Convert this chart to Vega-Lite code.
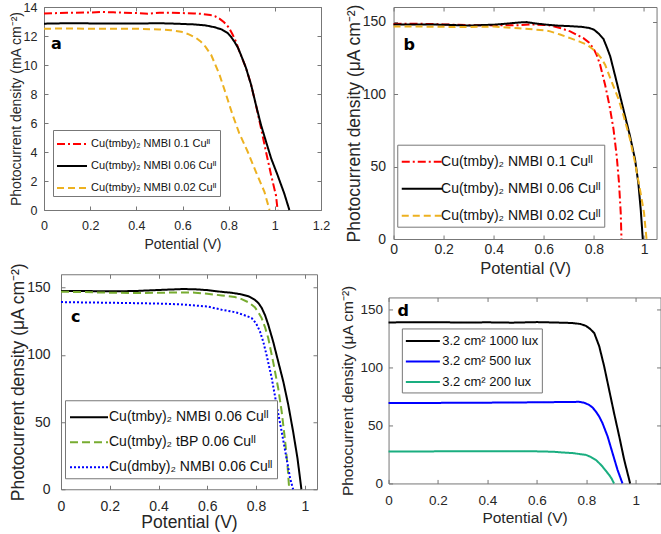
{
  "$schema": "https://vega.github.io/schema/vega-lite/v6.json",
  "background": "white",
  "padding": {"left": 7, "top": 0, "right": 0, "bottom": 0},
  "config": {
    "view": {"stroke": "#777", "strokeWidth": 1},
    "axis": {"grid": false, "domain": false, "ticks": true, "tickSize": -4, "tickColor": "#777", "tickCount": 20, "labelFont": "Liberation Sans", "titleFont": "Liberation Sans", "labelColor": "#262626", "titleColor": "#262626", "titleFontWeight": "normal", "labelFlush": false, "labelOverlap": false, "titlePadding": 0},
    "legend": {"title": null, "symbolStrokeWidth": 2, "labelFont": "Liberation Sans", "labelColor": "#111", "strokeColor": "#777", "fillColor": "white", "labelLimit": 400, "rowPadding": 0}
  },
  "datasets": {
    "a": [
      {"s": "Cu(tmby)₂ NMBI 0.1 Cuᴵᴵ", "v": 0, "j": 13.55}, {"s": "Cu(tmby)₂ NMBI 0.1 Cuᴵᴵ", "v": 0.1, "j": 13.6}, {"s": "Cu(tmby)₂ NMBI 0.1 Cuᴵᴵ", "v": 0.2, "j": 13.62}, {"s": "Cu(tmby)₂ NMBI 0.1 Cuᴵᴵ", "v": 0.25, "j": 13.66}, {"s": "Cu(tmby)₂ NMBI 0.1 Cuᴵᴵ", "v": 0.3, "j": 13.63}, {"s": "Cu(tmby)₂ NMBI 0.1 Cuᴵᴵ", "v": 0.4, "j": 13.58}, {"s": "Cu(tmby)₂ NMBI 0.1 Cuᴵᴵ", "v": 0.45, "j": 13.54}, {"s": "Cu(tmby)₂ NMBI 0.1 Cuᴵᴵ", "v": 0.5, "j": 13.6}, {"s": "Cu(tmby)₂ NMBI 0.1 Cuᴵᴵ", "v": 0.55, "j": 13.6}, {"s": "Cu(tmby)₂ NMBI 0.1 Cuᴵᴵ", "v": 0.6, "j": 13.58}, {"s": "Cu(tmby)₂ NMBI 0.1 Cuᴵᴵ", "v": 0.65, "j": 13.56}, {"s": "Cu(tmby)₂ NMBI 0.1 Cuᴵᴵ", "v": 0.68, "j": 13.53}, {"s": "Cu(tmby)₂ NMBI 0.1 Cuᴵᴵ", "v": 0.72, "j": 13.45}, {"s": "Cu(tmby)₂ NMBI 0.1 Cuᴵᴵ", "v": 0.74, "j": 13.37}, {"s": "Cu(tmby)₂ NMBI 0.1 Cuᴵᴵ", "v": 0.76, "j": 13.2}, {"s": "Cu(tmby)₂ NMBI 0.1 Cuᴵᴵ", "v": 0.78, "j": 12.95}, {"s": "Cu(tmby)₂ NMBI 0.1 Cuᴵᴵ", "v": 0.8, "j": 12.6}, {"s": "Cu(tmby)₂ NMBI 0.1 Cuᴵᴵ", "v": 0.817, "j": 12.1}, {"s": "Cu(tmby)₂ NMBI 0.1 Cuᴵᴵ", "v": 0.832, "j": 11.6}, {"s": "Cu(tmby)₂ NMBI 0.1 Cuᴵᴵ", "v": 0.846, "j": 10.95}, {"s": "Cu(tmby)₂ NMBI 0.1 Cuᴵᴵ", "v": 0.86, "j": 10.4}, {"s": "Cu(tmby)₂ NMBI 0.1 Cuᴵᴵ", "v": 0.875, "j": 9.8}, {"s": "Cu(tmby)₂ NMBI 0.1 Cuᴵᴵ", "v": 0.897, "j": 8.65}, {"s": "Cu(tmby)₂ NMBI 0.1 Cuᴵᴵ", "v": 0.918, "j": 7.25}, {"s": "Cu(tmby)₂ NMBI 0.1 Cuᴵᴵ", "v": 0.94, "j": 5.65}, {"s": "Cu(tmby)₂ NMBI 0.1 Cuᴵᴵ", "v": 0.962, "j": 4.0}, {"s": "Cu(tmby)₂ NMBI 0.1 Cuᴵᴵ", "v": 0.984, "j": 2.4}, {"s": "Cu(tmby)₂ NMBI 0.1 Cuᴵᴵ", "v": 1.005, "j": 1.0}, {"s": "Cu(tmby)₂ NMBI 0.1 Cuᴵᴵ", "v": 1.012, "j": 0},
      {"s": "Cu(tmby)₂ NMBI 0.06 Cuᴵᴵ", "v": 0, "j": 12.85}, {"s": "Cu(tmby)₂ NMBI 0.06 Cuᴵᴵ", "v": 0.1, "j": 12.88}, {"s": "Cu(tmby)₂ NMBI 0.06 Cuᴵᴵ", "v": 0.2, "j": 12.87}, {"s": "Cu(tmby)₂ NMBI 0.06 Cuᴵᴵ", "v": 0.3, "j": 12.86}, {"s": "Cu(tmby)₂ NMBI 0.06 Cuᴵᴵ", "v": 0.4, "j": 12.86}, {"s": "Cu(tmby)₂ NMBI 0.06 Cuᴵᴵ", "v": 0.5, "j": 12.88}, {"s": "Cu(tmby)₂ NMBI 0.06 Cuᴵᴵ", "v": 0.55, "j": 12.86}, {"s": "Cu(tmby)₂ NMBI 0.06 Cuᴵᴵ", "v": 0.6, "j": 12.83}, {"s": "Cu(tmby)₂ NMBI 0.06 Cuᴵᴵ", "v": 0.65, "j": 12.8}, {"s": "Cu(tmby)₂ NMBI 0.06 Cuᴵᴵ", "v": 0.7, "j": 12.73}, {"s": "Cu(tmby)₂ NMBI 0.06 Cuᴵᴵ", "v": 0.74, "j": 12.6}, {"s": "Cu(tmby)₂ NMBI 0.06 Cuᴵᴵ", "v": 0.77, "j": 12.45}, {"s": "Cu(tmby)₂ NMBI 0.06 Cuᴵᴵ", "v": 0.796, "j": 12.2}, {"s": "Cu(tmby)₂ NMBI 0.06 Cuᴵᴵ", "v": 0.81, "j": 11.95}, {"s": "Cu(tmby)₂ NMBI 0.06 Cuᴵᴵ", "v": 0.825, "j": 11.6}, {"s": "Cu(tmby)₂ NMBI 0.06 Cuᴵᴵ", "v": 0.84, "j": 11.2}, {"s": "Cu(tmby)₂ NMBI 0.06 Cuᴵᴵ", "v": 0.853, "j": 10.7}, {"s": "Cu(tmby)₂ NMBI 0.06 Cuᴵᴵ", "v": 0.875, "j": 9.8}, {"s": "Cu(tmby)₂ NMBI 0.06 Cuᴵᴵ", "v": 0.897, "j": 8.65}, {"s": "Cu(tmby)₂ NMBI 0.06 Cuᴵᴵ", "v": 0.918, "j": 7.26}, {"s": "Cu(tmby)₂ NMBI 0.06 Cuᴵᴵ", "v": 0.94, "j": 5.87}, {"s": "Cu(tmby)₂ NMBI 0.06 Cuᴵᴵ", "v": 0.962, "j": 4.71}, {"s": "Cu(tmby)₂ NMBI 0.06 Cuᴵᴵ", "v": 0.984, "j": 3.56}, {"s": "Cu(tmby)₂ NMBI 0.06 Cuᴵᴵ", "v": 1.012, "j": 2.4}, {"s": "Cu(tmby)₂ NMBI 0.06 Cuᴵᴵ", "v": 1.041, "j": 1.13}, {"s": "Cu(tmby)₂ NMBI 0.06 Cuᴵᴵ", "v": 1.063, "j": 0},
      {"s": "Cu(tmby)₂ NMBI 0.02 Cuᴵᴵ", "v": 0, "j": 12.5}, {"s": "Cu(tmby)₂ NMBI 0.02 Cuᴵᴵ", "v": 0.1, "j": 12.52}, {"s": "Cu(tmby)₂ NMBI 0.02 Cuᴵᴵ", "v": 0.2, "j": 12.5}, {"s": "Cu(tmby)₂ NMBI 0.02 Cuᴵᴵ", "v": 0.3, "j": 12.5}, {"s": "Cu(tmby)₂ NMBI 0.02 Cuᴵᴵ", "v": 0.4, "j": 12.5}, {"s": "Cu(tmby)₂ NMBI 0.02 Cuᴵᴵ", "v": 0.5, "j": 12.45}, {"s": "Cu(tmby)₂ NMBI 0.02 Cuᴵᴵ", "v": 0.55, "j": 12.4}, {"s": "Cu(tmby)₂ NMBI 0.02 Cuᴵᴵ", "v": 0.594, "j": 12.3}, {"s": "Cu(tmby)₂ NMBI 0.02 Cuᴵᴵ", "v": 0.63, "j": 12.1}, {"s": "Cu(tmby)₂ NMBI 0.02 Cuᴵᴵ", "v": 0.66, "j": 11.85}, {"s": "Cu(tmby)₂ NMBI 0.02 Cuᴵᴵ", "v": 0.68, "j": 11.6}, {"s": "Cu(tmby)₂ NMBI 0.02 Cuᴵᴵ", "v": 0.7, "j": 11.25}, {"s": "Cu(tmby)₂ NMBI 0.02 Cuᴵᴵ", "v": 0.724, "j": 10.7}, {"s": "Cu(tmby)₂ NMBI 0.02 Cuᴵᴵ", "v": 0.74, "j": 10.1}, {"s": "Cu(tmby)₂ NMBI 0.02 Cuᴵᴵ", "v": 0.76, "j": 9.35}, {"s": "Cu(tmby)₂ NMBI 0.02 Cuᴵᴵ", "v": 0.789, "j": 7.95}, {"s": "Cu(tmby)₂ NMBI 0.02 Cuᴵᴵ", "v": 0.817, "j": 6.56}, {"s": "Cu(tmby)₂ NMBI 0.02 Cuᴵᴵ", "v": 0.846, "j": 5.29}, {"s": "Cu(tmby)₂ NMBI 0.02 Cuᴵᴵ", "v": 0.883, "j": 4.0}, {"s": "Cu(tmby)₂ NMBI 0.02 Cuᴵᴵ", "v": 0.918, "j": 2.63}, {"s": "Cu(tmby)₂ NMBI 0.02 Cuᴵᴵ", "v": 0.955, "j": 1.25}, {"s": "Cu(tmby)₂ NMBI 0.02 Cuᴵᴵ", "v": 0.977, "j": 0}
    ],
    "b": [
      {"s": "Cu(tmby)₂ NMBI 0.1 Cuᴵᴵ", "v": 0, "j": 148.3}, {"s": "Cu(tmby)₂ NMBI 0.1 Cuᴵᴵ", "v": 0.1, "j": 148.5}, {"s": "Cu(tmby)₂ NMBI 0.1 Cuᴵᴵ", "v": 0.2, "j": 148}, {"s": "Cu(tmby)₂ NMBI 0.1 Cuᴵᴵ", "v": 0.3, "j": 147.5}, {"s": "Cu(tmby)₂ NMBI 0.1 Cuᴵᴵ", "v": 0.4, "j": 147.3}, {"s": "Cu(tmby)₂ NMBI 0.1 Cuᴵᴵ", "v": 0.5, "j": 147.5}, {"s": "Cu(tmby)₂ NMBI 0.1 Cuᴵᴵ", "v": 0.55, "j": 148}, {"s": "Cu(tmby)₂ NMBI 0.1 Cuᴵᴵ", "v": 0.6, "j": 147.6}, {"s": "Cu(tmby)₂ NMBI 0.1 Cuᴵᴵ", "v": 0.625, "j": 147.3}, {"s": "Cu(tmby)₂ NMBI 0.1 Cuᴵᴵ", "v": 0.665, "j": 145.5}, {"s": "Cu(tmby)₂ NMBI 0.1 Cuᴵᴵ", "v": 0.705, "j": 143.2}, {"s": "Cu(tmby)₂ NMBI 0.1 Cuᴵᴵ", "v": 0.73, "j": 141}, {"s": "Cu(tmby)₂ NMBI 0.1 Cuᴵᴵ", "v": 0.758, "j": 138.5}, {"s": "Cu(tmby)₂ NMBI 0.1 Cuᴵᴵ", "v": 0.78, "j": 135.5}, {"s": "Cu(tmby)₂ NMBI 0.1 Cuᴵᴵ", "v": 0.798, "j": 131.5}, {"s": "Cu(tmby)₂ NMBI 0.1 Cuᴵᴵ", "v": 0.812, "j": 126.5}, {"s": "Cu(tmby)₂ NMBI 0.1 Cuᴵᴵ", "v": 0.825, "j": 120}, {"s": "Cu(tmby)₂ NMBI 0.1 Cuᴵᴵ", "v": 0.845, "j": 106}, {"s": "Cu(tmby)₂ NMBI 0.1 Cuᴵᴵ", "v": 0.862, "j": 92}, {"s": "Cu(tmby)₂ NMBI 0.1 Cuᴵᴵ", "v": 0.878, "j": 76}, {"s": "Cu(tmby)₂ NMBI 0.1 Cuᴵᴵ", "v": 0.891, "j": 57}, {"s": "Cu(tmby)₂ NMBI 0.1 Cuᴵᴵ", "v": 0.9, "j": 39}, {"s": "Cu(tmby)₂ NMBI 0.1 Cuᴵᴵ", "v": 0.907, "j": 18}, {"s": "Cu(tmby)₂ NMBI 0.1 Cuᴵᴵ", "v": 0.91, "j": 0},
      {"s": "Cu(tmby)₂ NMBI 0.06 Cuᴵᴵ", "v": 0, "j": 148}, {"s": "Cu(tmby)₂ NMBI 0.06 Cuᴵᴵ", "v": 0.1, "j": 148}, {"s": "Cu(tmby)₂ NMBI 0.06 Cuᴵᴵ", "v": 0.2, "j": 147.8}, {"s": "Cu(tmby)₂ NMBI 0.06 Cuᴵᴵ", "v": 0.3, "j": 147.2}, {"s": "Cu(tmby)₂ NMBI 0.06 Cuᴵᴵ", "v": 0.4, "j": 147.8}, {"s": "Cu(tmby)₂ NMBI 0.06 Cuᴵᴵ", "v": 0.45, "j": 148.5}, {"s": "Cu(tmby)₂ NMBI 0.06 Cuᴵᴵ", "v": 0.5, "j": 149.3}, {"s": "Cu(tmby)₂ NMBI 0.06 Cuᴵᴵ", "v": 0.53, "j": 149.6}, {"s": "Cu(tmby)₂ NMBI 0.06 Cuᴵᴵ", "v": 0.56, "j": 148.8}, {"s": "Cu(tmby)₂ NMBI 0.06 Cuᴵᴵ", "v": 0.6, "j": 148}, {"s": "Cu(tmby)₂ NMBI 0.06 Cuᴵᴵ", "v": 0.65, "j": 147.2}, {"s": "Cu(tmby)₂ NMBI 0.06 Cuᴵᴵ", "v": 0.705, "j": 146.8}, {"s": "Cu(tmby)₂ NMBI 0.06 Cuᴵᴵ", "v": 0.75, "j": 146.3}, {"s": "Cu(tmby)₂ NMBI 0.06 Cuᴵᴵ", "v": 0.78, "j": 145.6}, {"s": "Cu(tmby)₂ NMBI 0.06 Cuᴵᴵ", "v": 0.8, "j": 144.4}, {"s": "Cu(tmby)₂ NMBI 0.06 Cuᴵᴵ", "v": 0.82, "j": 141.5}, {"s": "Cu(tmby)₂ NMBI 0.06 Cuᴵᴵ", "v": 0.838, "j": 138}, {"s": "Cu(tmby)₂ NMBI 0.06 Cuᴵᴵ", "v": 0.852, "j": 132}, {"s": "Cu(tmby)₂ NMBI 0.06 Cuᴵᴵ", "v": 0.865, "j": 126}, {"s": "Cu(tmby)₂ NMBI 0.06 Cuᴵᴵ", "v": 0.884, "j": 113}, {"s": "Cu(tmby)₂ NMBI 0.06 Cuᴵᴵ", "v": 0.904, "j": 99}, {"s": "Cu(tmby)₂ NMBI 0.06 Cuᴵᴵ", "v": 0.924, "j": 85}, {"s": "Cu(tmby)₂ NMBI 0.06 Cuᴵᴵ", "v": 0.944, "j": 71}, {"s": "Cu(tmby)₂ NMBI 0.06 Cuᴵᴵ", "v": 0.964, "j": 55}, {"s": "Cu(tmby)₂ NMBI 0.06 Cuᴵᴵ", "v": 0.977, "j": 39}, {"s": "Cu(tmby)₂ NMBI 0.06 Cuᴵᴵ", "v": 0.987, "j": 20}, {"s": "Cu(tmby)₂ NMBI 0.06 Cuᴵᴵ", "v": 0.995, "j": 0},
      {"s": "Cu(tmby)₂ NMBI 0.02 Cuᴵᴵ", "v": 0, "j": 146.5}, {"s": "Cu(tmby)₂ NMBI 0.02 Cuᴵᴵ", "v": 0.1, "j": 146.5}, {"s": "Cu(tmby)₂ NMBI 0.02 Cuᴵᴵ", "v": 0.2, "j": 146.3}, {"s": "Cu(tmby)₂ NMBI 0.02 Cuᴵᴵ", "v": 0.3, "j": 146.2}, {"s": "Cu(tmby)₂ NMBI 0.02 Cuᴵᴵ", "v": 0.4, "j": 146.5}, {"s": "Cu(tmby)₂ NMBI 0.02 Cuᴵᴵ", "v": 0.5, "j": 145.3}, {"s": "Cu(tmby)₂ NMBI 0.02 Cuᴵᴵ", "v": 0.6, "j": 144}, {"s": "Cu(tmby)₂ NMBI 0.02 Cuᴵᴵ", "v": 0.625, "j": 143.2}, {"s": "Cu(tmby)₂ NMBI 0.02 Cuᴵᴵ", "v": 0.665, "j": 141}, {"s": "Cu(tmby)₂ NMBI 0.02 Cuᴵᴵ", "v": 0.705, "j": 138.5}, {"s": "Cu(tmby)₂ NMBI 0.02 Cuᴵᴵ", "v": 0.74, "j": 136.3}, {"s": "Cu(tmby)₂ NMBI 0.02 Cuᴵᴵ", "v": 0.772, "j": 134}, {"s": "Cu(tmby)₂ NMBI 0.02 Cuᴵᴵ", "v": 0.795, "j": 131}, {"s": "Cu(tmby)₂ NMBI 0.02 Cuᴵᴵ", "v": 0.811, "j": 128.5}, {"s": "Cu(tmby)₂ NMBI 0.02 Cuᴵᴵ", "v": 0.83, "j": 124.5}, {"s": "Cu(tmby)₂ NMBI 0.02 Cuᴵᴵ", "v": 0.845, "j": 120}, {"s": "Cu(tmby)₂ NMBI 0.02 Cuᴵᴵ", "v": 0.871, "j": 108.3}, {"s": "Cu(tmby)₂ NMBI 0.02 Cuᴵᴵ", "v": 0.898, "j": 96.7}, {"s": "Cu(tmby)₂ NMBI 0.02 Cuᴵᴵ", "v": 0.918, "j": 85.2}, {"s": "Cu(tmby)₂ NMBI 0.02 Cuᴵᴵ", "v": 0.944, "j": 69}, {"s": "Cu(tmby)₂ NMBI 0.02 Cuᴵᴵ", "v": 0.964, "j": 52.7}, {"s": "Cu(tmby)₂ NMBI 0.02 Cuᴵᴵ", "v": 0.984, "j": 34}, {"s": "Cu(tmby)₂ NMBI 0.02 Cuᴵᴵ", "v": 1.0, "j": 18}, {"s": "Cu(tmby)₂ NMBI 0.02 Cuᴵᴵ", "v": 1.01, "j": 0}
    ],
    "c": [
      {"s": "Cu(tmby)₂ NMBI 0.06 Cuᴵᴵ", "v": 0, "j": 147.5}, {"s": "Cu(tmby)₂ NMBI 0.06 Cuᴵᴵ", "v": 0.1, "j": 147.5}, {"s": "Cu(tmby)₂ NMBI 0.06 Cuᴵᴵ", "v": 0.2, "j": 147.3}, {"s": "Cu(tmby)₂ NMBI 0.06 Cuᴵᴵ", "v": 0.3, "j": 147.5}, {"s": "Cu(tmby)₂ NMBI 0.06 Cuᴵᴵ", "v": 0.4, "j": 148.3}, {"s": "Cu(tmby)₂ NMBI 0.06 Cuᴵᴵ", "v": 0.5, "j": 149}, {"s": "Cu(tmby)₂ NMBI 0.06 Cuᴵᴵ", "v": 0.55, "j": 148.8}, {"s": "Cu(tmby)₂ NMBI 0.06 Cuᴵᴵ", "v": 0.6, "j": 148.2}, {"s": "Cu(tmby)₂ NMBI 0.06 Cuᴵᴵ", "v": 0.659, "j": 146.9}, {"s": "Cu(tmby)₂ NMBI 0.06 Cuᴵᴵ", "v": 0.7, "j": 146.2}, {"s": "Cu(tmby)₂ NMBI 0.06 Cuᴵᴵ", "v": 0.741, "j": 145}, {"s": "Cu(tmby)₂ NMBI 0.06 Cuᴵᴵ", "v": 0.77, "j": 143.5}, {"s": "Cu(tmby)₂ NMBI 0.06 Cuᴵᴵ", "v": 0.795, "j": 141}, {"s": "Cu(tmby)₂ NMBI 0.06 Cuᴵᴵ", "v": 0.81, "j": 138.5}, {"s": "Cu(tmby)₂ NMBI 0.06 Cuᴵᴵ", "v": 0.823, "j": 135}, {"s": "Cu(tmby)₂ NMBI 0.06 Cuᴵᴵ", "v": 0.837, "j": 129.5}, {"s": "Cu(tmby)₂ NMBI 0.06 Cuᴵᴵ", "v": 0.85, "j": 122.5}, {"s": "Cu(tmby)₂ NMBI 0.06 Cuᴵᴵ", "v": 0.87, "j": 110}, {"s": "Cu(tmby)₂ NMBI 0.06 Cuᴵᴵ", "v": 0.891, "j": 95}, {"s": "Cu(tmby)₂ NMBI 0.06 Cuᴵᴵ", "v": 0.912, "j": 80}, {"s": "Cu(tmby)₂ NMBI 0.06 Cuᴵᴵ", "v": 0.932, "j": 63}, {"s": "Cu(tmby)₂ NMBI 0.06 Cuᴵᴵ", "v": 0.952, "j": 43}, {"s": "Cu(tmby)₂ NMBI 0.06 Cuᴵᴵ", "v": 0.97, "j": 23}, {"s": "Cu(tmby)₂ NMBI 0.06 Cuᴵᴵ", "v": 0.986, "j": 0},
      {"s": "Cu(tmby)₂ tBP 0.06 Cuᴵᴵ", "v": 0, "j": 147}, {"s": "Cu(tmby)₂ tBP 0.06 Cuᴵᴵ", "v": 0.1, "j": 146.7}, {"s": "Cu(tmby)₂ tBP 0.06 Cuᴵᴵ", "v": 0.2, "j": 146.3}, {"s": "Cu(tmby)₂ tBP 0.06 Cuᴵᴵ", "v": 0.3, "j": 146}, {"s": "Cu(tmby)₂ tBP 0.06 Cuᴵᴵ", "v": 0.4, "j": 146.2}, {"s": "Cu(tmby)₂ tBP 0.06 Cuᴵᴵ", "v": 0.5, "j": 146.5}, {"s": "Cu(tmby)₂ tBP 0.06 Cuᴵᴵ", "v": 0.55, "j": 146.3}, {"s": "Cu(tmby)₂ tBP 0.06 Cuᴵᴵ", "v": 0.6, "j": 145.5}, {"s": "Cu(tmby)₂ tBP 0.06 Cuᴵᴵ", "v": 0.66, "j": 144.2}, {"s": "Cu(tmby)₂ tBP 0.06 Cuᴵᴵ", "v": 0.713, "j": 143}, {"s": "Cu(tmby)₂ tBP 0.06 Cuᴵᴵ", "v": 0.741, "j": 141.5}, {"s": "Cu(tmby)₂ tBP 0.06 Cuᴵᴵ", "v": 0.77, "j": 139}, {"s": "Cu(tmby)₂ tBP 0.06 Cuᴵᴵ", "v": 0.795, "j": 135.5}, {"s": "Cu(tmby)₂ tBP 0.06 Cuᴵᴵ", "v": 0.81, "j": 131.5}, {"s": "Cu(tmby)₂ tBP 0.06 Cuᴵᴵ", "v": 0.823, "j": 127.4}, {"s": "Cu(tmby)₂ tBP 0.06 Cuᴵᴵ", "v": 0.837, "j": 120.5}, {"s": "Cu(tmby)₂ tBP 0.06 Cuᴵᴵ", "v": 0.85, "j": 112.5}, {"s": "Cu(tmby)₂ tBP 0.06 Cuᴵᴵ", "v": 0.87, "j": 95}, {"s": "Cu(tmby)₂ tBP 0.06 Cuᴵᴵ", "v": 0.891, "j": 75}, {"s": "Cu(tmby)₂ tBP 0.06 Cuᴵᴵ", "v": 0.905, "j": 58}, {"s": "Cu(tmby)₂ tBP 0.06 Cuᴵᴵ", "v": 0.918, "j": 38}, {"s": "Cu(tmby)₂ tBP 0.06 Cuᴵᴵ", "v": 0.929, "j": 18}, {"s": "Cu(tmby)₂ tBP 0.06 Cuᴵᴵ", "v": 0.936, "j": 0},
      {"s": "Cu(dmby)₂ NMBI 0.06 Cuᴵᴵ", "v": 0, "j": 139.3}, {"s": "Cu(dmby)₂ NMBI 0.06 Cuᴵᴵ", "v": 0.1, "j": 139}, {"s": "Cu(dmby)₂ NMBI 0.06 Cuᴵᴵ", "v": 0.2, "j": 138.8}, {"s": "Cu(dmby)₂ NMBI 0.06 Cuᴵᴵ", "v": 0.3, "j": 138.5}, {"s": "Cu(dmby)₂ NMBI 0.06 Cuᴵᴵ", "v": 0.4, "j": 138.2}, {"s": "Cu(dmby)₂ NMBI 0.06 Cuᴵᴵ", "v": 0.5, "j": 137.5}, {"s": "Cu(dmby)₂ NMBI 0.06 Cuᴵᴵ", "v": 0.6, "j": 136}, {"s": "Cu(dmby)₂ NMBI 0.06 Cuᴵᴵ", "v": 0.659, "j": 133.6}, {"s": "Cu(dmby)₂ NMBI 0.06 Cuᴵᴵ", "v": 0.7, "j": 132.3}, {"s": "Cu(dmby)₂ NMBI 0.06 Cuᴵᴵ", "v": 0.727, "j": 131.1}, {"s": "Cu(dmby)₂ NMBI 0.06 Cuᴵᴵ", "v": 0.76, "j": 129}, {"s": "Cu(dmby)₂ NMBI 0.06 Cuᴵᴵ", "v": 0.782, "j": 127.4}, {"s": "Cu(dmby)₂ NMBI 0.06 Cuᴵᴵ", "v": 0.8, "j": 123.5}, {"s": "Cu(dmby)₂ NMBI 0.06 Cuᴵᴵ", "v": 0.816, "j": 117.5}, {"s": "Cu(dmby)₂ NMBI 0.06 Cuᴵᴵ", "v": 0.83, "j": 109.5}, {"s": "Cu(dmby)₂ NMBI 0.06 Cuᴵᴵ", "v": 0.843, "j": 100}, {"s": "Cu(dmby)₂ NMBI 0.06 Cuᴵᴵ", "v": 0.864, "j": 83}, {"s": "Cu(dmby)₂ NMBI 0.06 Cuᴵᴵ", "v": 0.884, "j": 63}, {"s": "Cu(dmby)₂ NMBI 0.06 Cuᴵᴵ", "v": 0.905, "j": 43}, {"s": "Cu(dmby)₂ NMBI 0.06 Cuᴵᴵ", "v": 0.925, "j": 23}, {"s": "Cu(dmby)₂ NMBI 0.06 Cuᴵᴵ", "v": 0.94, "j": 8}, {"s": "Cu(dmby)₂ NMBI 0.06 Cuᴵᴵ", "v": 0.952, "j": 0}
    ],
    "d": [
      {"s": "3.2 cm² 1000 lux", "v": 0, "j": 138.5}, {"s": "3.2 cm² 1000 lux", "v": 0.1, "j": 138.7}, {"s": "3.2 cm² 1000 lux", "v": 0.2, "j": 138.7}, {"s": "3.2 cm² 1000 lux", "v": 0.3, "j": 138.4}, {"s": "3.2 cm² 1000 lux", "v": 0.4, "j": 138.6}, {"s": "3.2 cm² 1000 lux", "v": 0.5, "j": 138.3}, {"s": "3.2 cm² 1000 lux", "v": 0.6, "j": 138.8}, {"s": "3.2 cm² 1000 lux", "v": 0.7, "j": 138.3}, {"s": "3.2 cm² 1000 lux", "v": 0.744, "j": 138}, {"s": "3.2 cm² 1000 lux", "v": 0.775, "j": 137.2}, {"s": "3.2 cm² 1000 lux", "v": 0.798, "j": 135.6}, {"s": "3.2 cm² 1000 lux", "v": 0.815, "j": 133}, {"s": "3.2 cm² 1000 lux", "v": 0.832, "j": 129.3}, {"s": "3.2 cm² 1000 lux", "v": 0.852, "j": 118}, {"s": "3.2 cm² 1000 lux", "v": 0.872, "j": 100.7}, {"s": "3.2 cm² 1000 lux", "v": 0.892, "j": 80.6}, {"s": "3.2 cm² 1000 lux", "v": 0.912, "j": 60.5}, {"s": "3.2 cm² 1000 lux", "v": 0.933, "j": 40.4}, {"s": "3.2 cm² 1000 lux", "v": 0.953, "j": 20.3}, {"s": "3.2 cm² 1000 lux", "v": 0.977, "j": 0},
      {"s": "3.2 cm² 500 lux", "v": 0, "j": 69.3}, {"s": "3.2 cm² 500 lux", "v": 0.2, "j": 69.3}, {"s": "3.2 cm² 500 lux", "v": 0.4, "j": 69.5}, {"s": "3.2 cm² 500 lux", "v": 0.6, "j": 69.8}, {"s": "3.2 cm² 500 lux", "v": 0.771, "j": 70.2}, {"s": "3.2 cm² 500 lux", "v": 0.79, "j": 69.5}, {"s": "3.2 cm² 500 lux", "v": 0.811, "j": 67.6}, {"s": "3.2 cm² 500 lux", "v": 0.825, "j": 65.3}, {"s": "3.2 cm² 500 lux", "v": 0.838, "j": 62}, {"s": "3.2 cm² 500 lux", "v": 0.852, "j": 57.5}, {"s": "3.2 cm² 500 lux", "v": 0.865, "j": 52}, {"s": "3.2 cm² 500 lux", "v": 0.886, "j": 40.4}, {"s": "3.2 cm² 500 lux", "v": 0.906, "j": 26}, {"s": "3.2 cm² 500 lux", "v": 0.926, "j": 11.7}, {"s": "3.2 cm² 500 lux", "v": 0.946, "j": 0},
      {"s": "3.2 cm² 200 lux", "v": 0, "j": 27.5}, {"s": "3.2 cm² 200 lux", "v": 0.2, "j": 27.6}, {"s": "3.2 cm² 200 lux", "v": 0.4, "j": 27.7}, {"s": "3.2 cm² 200 lux", "v": 0.6, "j": 27.6}, {"s": "3.2 cm² 200 lux", "v": 0.663, "j": 27.3}, {"s": "3.2 cm² 200 lux", "v": 0.7, "j": 26.7}, {"s": "3.2 cm² 200 lux", "v": 0.744, "j": 26.1}, {"s": "3.2 cm² 200 lux", "v": 0.798, "j": 24.6}, {"s": "3.2 cm² 200 lux", "v": 0.818, "j": 22.8}, {"s": "3.2 cm² 200 lux", "v": 0.838, "j": 20.3}, {"s": "3.2 cm² 200 lux", "v": 0.852, "j": 17.5}, {"s": "3.2 cm² 200 lux", "v": 0.865, "j": 14.6}, {"s": "3.2 cm² 200 lux", "v": 0.88, "j": 10.5}, {"s": "3.2 cm² 200 lux", "v": 0.892, "j": 7.4}, {"s": "3.2 cm² 200 lux", "v": 0.902, "j": 4.2}, {"s": "3.2 cm² 200 lux", "v": 0.912, "j": 0}
    ]
  },
  "concat": [
    {
      "concat": [
        {
          "concat": [
            {"width": 1, "height": 1, "view": {"stroke": null}, "data": {"values": []}, "mark": {"type": "point"}, "encoding": {}},
            {
              "width": 277, "height": 203,
              "resolve": {"axis": {"x": "independent", "y": "independent"}},
              "layer": [
                {
                  "data": {"name": "a"},
                  "mark": {"type": "line", "strokeWidth": 2},
                  "encoding": {
                    "x": {"field": "v", "type": "quantitative", "scale": {"domain": [0, 1.2], "nice": false, "zero": false}, "axis": {"orient": "bottom", "title": "Potential (V)", "values": [0, 0.2, 0.4, 0.6, 0.8, 1, 1.2], "format": "~g", "labelFontSize": 12.5, "titleFontSize": 14, "labelPadding": 13.4, "minExtent": 27.7, "maxExtent": 27.7}},
                    "y": {"field": "j", "type": "quantitative", "scale": {"domain": [0, 14], "nice": false}, "axis": {"orient": "left", "title": "Photocurrent density (mA cm⁻²)", "values": [0, 2, 4, 6, 8, 10, 12, 14], "format": "~g", "labelFontSize": 12.5, "titleFontSize": 14, "labelPadding": 11, "minExtent": 21, "maxExtent": 21}},
                    "color": {"field": "s", "type": "nominal", "scale": {"domain": ["Cu(tmby)₂ NMBI 0.1 Cuᴵᴵ", "Cu(tmby)₂ NMBI 0.06 Cuᴵᴵ", "Cu(tmby)₂ NMBI 0.02 Cuᴵᴵ"], "range": ["#ff0000", "#000000", "#edb120"]}, "legend": {"orient": "none", "legendX": 9, "legendY": 123, "symbolType": "M-1,0H2", "symbolSize": 400, "labelFontSize": 11, "labelOffset": 13, "padding": 3, "rowPadding": 6}},
                    "strokeDash": {"field": "s", "type": "nominal", "scale": {"domain": ["Cu(tmby)₂ NMBI 0.1 Cuᴵᴵ", "Cu(tmby)₂ NMBI 0.06 Cuᴵᴵ", "Cu(tmby)₂ NMBI 0.02 Cuᴵᴵ"], "range": [[8, 3, 2, 3], [1, 0], [7, 4]]}, "legend": {"orient": "none", "legendX": 9, "legendY": 123, "symbolType": "M-1,0H2", "symbolSize": 400, "labelFontSize": 11, "labelOffset": 13, "padding": 3, "rowPadding": 6}}
                  }
                },
                {
                  "data": {"values": [{"label": "a"}]},
                  "mark": {"type": "text", "font": "DejaVu Sans", "fontWeight": "bold", "fontSize": 16, "align": "left", "baseline": "alphabetic", "color": "#000"},
                  "encoding": {
                    "x": {"datum": 0.03, "type": "quantitative", "axis": {"orient": "top", "labels": false, "title": null, "values": [0, 0.2, 0.4, 0.6, 0.8, 1, 1.2], "minExtent": 0, "maxExtent": 0}},
                    "y": {"datum": 11.1, "type": "quantitative", "axis": {"orient": "right", "labels": false, "title": null, "values": [0, 2, 4, 6, 8, 10, 12, 14], "minExtent": 0, "maxExtent": 0}},
                    "text": {"field": "label"}
                  }
                }
              ]
            }
          ],
          "columns": 2, "align": "none", "spacing": 0,
          "resolve": {"scale": {"color": "independent", "strokeDash": "independent"}, "legend": {"color": "independent", "strokeDash": "independent"}}
        },
        {
          "concat": [
            {"width": 1, "height": 1, "view": {"stroke": null}, "data": {"values": []}, "mark": {"type": "point"}, "encoding": {}},
            {
              "width": 256, "height": 215,
              "resolve": {"axis": {"x": "independent", "y": "independent"}},
              "layer": [
                {
                  "data": {"name": "c"},
                  "mark": {"type": "line", "strokeWidth": 2},
                  "encoding": {
                    "x": {"field": "v", "type": "quantitative", "scale": {"domain": [0, 1.05], "nice": false, "zero": false}, "axis": {"orient": "bottom", "title": "Potential (V)", "values": [0, 0.2, 0.4, 0.6, 0.8, 1], "format": "~g", "labelFontSize": 14, "titleFontSize": 17.5, "labelPadding": 13.9, "minExtent": 24.7, "maxExtent": 24.7}},
                    "y": {"field": "j", "type": "quantitative", "scale": {"domain": [0, 160], "nice": false}, "axis": {"orient": "left", "title": "Photocurrent density (μA cm⁻²)", "values": [0, 50, 100, 150], "labelFontSize": 14, "titleFontSize": 17.5, "labelPadding": 15, "minExtent": 34, "maxExtent": 34}},
                    "color": {"field": "s", "type": "nominal", "scale": {"domain": ["Cu(tmby)₂ NMBI 0.06 Cuᴵᴵ", "Cu(tmby)₂ tBP 0.06 Cuᴵᴵ", "Cu(dmby)₂ NMBI 0.06 Cuᴵᴵ"], "range": ["#000000", "#77ac30", "#0000ff"]}, "legend": {"orient": "none", "legendX": 4, "legendY": 126, "symbolType": "M-1,0H2.17", "symbolSize": 576, "labelFontSize": 14, "labelOffset": 14, "padding": 4, "rowPadding": 5}},
                    "strokeDash": {"field": "s", "type": "nominal", "scale": {"domain": ["Cu(tmby)₂ NMBI 0.06 Cuᴵᴵ", "Cu(tmby)₂ tBP 0.06 Cuᴵᴵ", "Cu(dmby)₂ NMBI 0.06 Cuᴵᴵ"], "range": [[1, 0], [8, 4], [2, 2]]}, "legend": {"orient": "none", "legendX": 4, "legendY": 126, "symbolType": "M-1,0H2.17", "symbolSize": 576, "labelFontSize": 14, "labelOffset": 14, "padding": 4, "rowPadding": 5}}
                  }
                },
                {
                  "data": {"values": [{"label": "c"}]},
                  "mark": {"type": "text", "font": "DejaVu Sans", "fontWeight": "bold", "fontSize": 16, "align": "left", "baseline": "alphabetic", "color": "#000"},
                  "encoding": {
                    "x": {"datum": 0.041, "type": "quantitative", "axis": {"orient": "top", "labels": false, "title": null, "values": [0, 0.2, 0.4, 0.6, 0.8, 1], "minExtent": 0, "maxExtent": 0}},
                    "y": {"datum": 124.4, "type": "quantitative", "axis": {"orient": "right", "labels": false, "title": null, "values": [0, 50, 100, 150], "minExtent": 0, "maxExtent": 0}},
                    "text": {"field": "label"}
                  }
                }
              ]
            }
          ],
          "columns": 2, "align": "none", "spacing": 0,
          "resolve": {"scale": {"color": "independent", "strokeDash": "independent"}, "legend": {"color": "independent", "strokeDash": "independent"}}
        }
      ],
      "columns": 1, "align": "none", "spacing": 8.25,
      "resolve": {"scale": {"color": "independent", "strokeDash": "independent"}, "legend": {"color": "independent", "strokeDash": "independent"}}
    },
    {
      "concat": [
        {
          "concat": [
            {"width": 5.5, "height": 1, "view": {"stroke": null}, "data": {"values": []}, "mark": {"type": "point"}, "encoding": {}},
            {
              "width": 263, "height": 232,
              "resolve": {"axis": {"x": "independent", "y": "independent"}},
              "layer": [
                {
                  "data": {"name": "b"},
                  "mark": {"type": "line", "strokeWidth": 2},
                  "encoding": {
                    "x": {"field": "v", "type": "quantitative", "scale": {"domain": [0, 1.05], "nice": false, "zero": false}, "axis": {"orient": "bottom", "title": "Potential (V)", "values": [0, 0.2, 0.4, 0.6, 0.8, 1], "format": "~g", "labelFontSize": 14, "titleFontSize": 16.5, "labelPadding": 7.2, "minExtent": 21.4, "maxExtent": 21.4}},
                    "y": {"field": "j", "type": "quantitative", "scale": {"domain": [0, 160], "nice": false}, "axis": {"orient": "left", "title": "Photocurrent density (μA cm⁻²)", "values": [0, 50, 100, 150], "labelFontSize": 14, "titleFontSize": 17.5, "labelPadding": 12, "minExtent": 29.75, "maxExtent": 29.75}},
                    "color": {"field": "s", "type": "nominal", "scale": {"domain": ["Cu(tmby)₂ NMBI 0.1 Cuᴵᴵ", "Cu(tmby)₂ NMBI 0.06 Cuᴵᴵ", "Cu(tmby)₂ NMBI 0.02 Cuᴵᴵ"], "range": ["#ff0000", "#000000", "#edb120"]}, "legend": {"orient": "none", "legendX": 3.7, "legendY": 137.7, "symbolType": "M-1,0H2.28", "symbolSize": 625, "labelFontSize": 14, "labelOffset": 13.3, "padding": 3.5, "rowPadding": 6}},
                    "strokeDash": {"field": "s", "type": "nominal", "scale": {"domain": ["Cu(tmby)₂ NMBI 0.1 Cuᴵᴵ", "Cu(tmby)₂ NMBI 0.06 Cuᴵᴵ", "Cu(tmby)₂ NMBI 0.02 Cuᴵᴵ"], "range": [[8, 3, 2, 3], [1, 0], [7, 4]]}, "legend": {"orient": "none", "legendX": 3.7, "legendY": 137.7, "symbolType": "M-1,0H2.28", "symbolSize": 625, "labelFontSize": 14, "labelOffset": 13.3, "padding": 3.5, "rowPadding": 6}}
                  }
                },
                {
                  "data": {"values": [{"label": "b"}]},
                  "mark": {"type": "text", "font": "DejaVu Sans", "fontWeight": "bold", "fontSize": 16, "align": "left", "baseline": "alphabetic", "color": "#000"},
                  "encoding": {
                    "x": {"datum": 0.04, "type": "quantitative", "axis": {"orient": "top", "labels": false, "title": null, "values": [0, 0.2, 0.4, 0.6, 0.8, 1], "minExtent": 0, "maxExtent": 0}},
                    "y": {"datum": 130.4, "type": "quantitative", "axis": {"orient": "right", "labels": false, "title": null, "values": [0, 50, 100, 150], "minExtent": 0, "maxExtent": 0}},
                    "text": {"field": "label"}
                  }
                }
              ]
            }
          ],
          "columns": 2, "align": "none", "spacing": 0,
          "resolve": {"scale": {"color": "independent", "strokeDash": "independent"}, "legend": {"color": "independent", "strokeDash": "independent"}}
        },
        {
          "concat": [
            {"width": 1, "height": 1, "view": {"stroke": null}, "data": {"values": []}, "mark": {"type": "point"}, "encoding": {}},
            {
              "width": 272, "height": 186,
              "resolve": {"axis": {"x": "independent", "y": "independent"}},
              "layer": [
                {
                  "data": {"name": "d"},
                  "mark": {"type": "line", "strokeWidth": 2},
                  "encoding": {
                    "x": {"field": "v", "type": "quantitative", "scale": {"domain": [0, 1.1], "nice": false, "zero": false}, "axis": {"orient": "bottom", "title": "Potential (V)", "values": [0, 0.2, 0.4, 0.6, 0.8, 1], "format": "~g", "labelFontSize": 13.5, "titleFontSize": 15.5, "labelPadding": 13.7, "minExtent": 27.2, "maxExtent": 27.2}},
                    "y": {"field": "j", "type": "quantitative", "scale": {"domain": [0, 160], "nice": false}, "axis": {"orient": "left", "title": "Photocurrent density (μA cm⁻²)", "values": [0, 50, 100, 150], "labelFontSize": 13.5, "titleFontSize": 15.5, "labelPadding": 10, "minExtent": 33.25, "maxExtent": 33.25}},
                    "color": {"field": "s", "type": "nominal", "scale": {"domain": ["3.2 cm² 1000 lux", "3.2 cm² 500 lux", "3.2 cm² 200 lux"], "range": ["#000000", "#0000ff", "#1aae80"]}, "legend": {"orient": "none", "legendX": 13.3, "legendY": 31, "symbolType": "M-1,0H3", "symbolSize": 289, "labelFontSize": 13, "labelOffset": 18.4, "padding": 3, "rowPadding": 3.5}},
                    "strokeDash": {"field": "s", "type": "nominal", "scale": {"domain": ["3.2 cm² 1000 lux", "3.2 cm² 500 lux", "3.2 cm² 200 lux"], "range": [[1, 0], [1, 0], [1, 0]]}, "legend": {"orient": "none", "legendX": 13.3, "legendY": 31, "symbolType": "M-1,0H3", "symbolSize": 289, "labelFontSize": 13, "labelOffset": 18.4, "padding": 3, "rowPadding": 3.5}}
                  }
                },
                {
                  "data": {"values": [{"label": "d"}]},
                  "mark": {"type": "text", "font": "DejaVu Sans", "fontWeight": "bold", "fontSize": 16, "align": "left", "baseline": "alphabetic", "color": "#000"},
                  "encoding": {
                    "x": {"datum": 0.036, "type": "quantitative", "axis": {"orient": "top", "labels": false, "title": null, "values": [0, 0.2, 0.4, 0.6, 0.8, 1], "minExtent": 0, "maxExtent": 0}},
                    "y": {"datum": 144, "type": "quantitative", "axis": {"orient": "right", "labels": false, "title": null, "values": [0, 50, 100, 150], "minExtent": 0, "maxExtent": 0}},
                    "text": {"field": "label"}
                  }
                }
              ]
            }
          ],
          "columns": 2, "align": "none", "spacing": 0,
          "resolve": {"scale": {"color": "independent", "strokeDash": "independent"}, "legend": {"color": "independent", "strokeDash": "independent"}}
        }
      ],
      "columns": 1, "align": "none", "spacing": 5.45,
      "resolve": {"scale": {"color": "independent", "strokeDash": "independent"}, "legend": {"color": "independent", "strokeDash": "independent"}}
    }
  ],
  "columns": 2,
  "align": "none",
  "spacing": 7.55,
  "resolve": {"scale": {"color": "independent", "strokeDash": "independent"}, "legend": {"color": "independent", "strokeDash": "independent"}}
}
